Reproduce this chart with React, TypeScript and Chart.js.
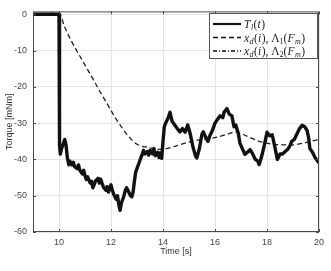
import React, { useEffect, useRef } from "react";
import { Chart, registerables } from "chart.js";

Chart.register(...registerables);

const xTicks = [10, 12, 14, 16, 18, 20];
const yTicks = [-60, -50, -40, -30, -20, -10, 0];

// T_l(t) measured torque
const tlTime = [
  9.0, 9.99, 10.0, 10.02, 10.05, 10.1, 10.15, 10.22, 10.27, 10.32, 10.38, 10.42, 10.5, 10.55, 10.6, 10.7,
  10.75, 10.8, 10.9, 10.95, 11.0, 11.05, 11.1, 11.2, 11.25, 11.3, 11.35, 11.4, 11.5, 11.55, 11.6, 11.7,
  11.8, 11.85, 11.9, 12.0, 12.05, 12.1, 12.2, 12.25, 12.3, 12.35, 12.4, 12.5, 12.55, 12.6, 12.65, 12.75,
  12.8, 12.85, 12.9, 12.95, 13.0, 13.1, 13.15, 13.2, 13.25, 13.3, 13.4, 13.45, 13.5, 13.6, 13.65, 13.7,
  13.8, 13.85, 13.9, 13.95, 14.0, 14.05, 14.1, 14.2, 14.27, 14.35, 14.45, 14.55, 14.65, 14.75, 14.85, 14.95,
  15.05, 15.15, 15.25, 15.3, 15.4, 15.5, 15.55, 15.65, 15.73, 15.8, 15.9, 16.0, 16.1, 16.2, 16.3, 16.35,
  16.46, 16.55, 16.65, 16.73, 16.8, 16.9, 16.96, 17.05, 17.15, 17.25, 17.35, 17.45, 17.55, 17.65, 17.7, 17.8,
  17.9, 18.0, 18.1, 18.2, 18.3, 18.4, 18.5, 18.6, 18.7, 18.8, 18.9, 18.95, 19.05, 19.15, 19.25, 19.35,
  19.45, 19.54, 19.6, 19.65, 19.75, 19.85, 20.0,
];
const tlValue = [
  0, 0, 0, -36, -38.5, -37, -36, -34.5, -36, -39.5, -41.5, -40.5, -41.5, -40.8, -42, -42.5,
  -41.5, -43, -44, -43, -44.5, -45.5, -44.8, -46.5, -46, -47.8, -47, -46, -45.2, -46.5, -45.4, -47.5,
  -48.5, -47.5, -49, -47, -48.5, -49.5, -51, -50, -52.5, -54, -52, -50, -48.5, -47.8, -48.5, -50,
  -50.3, -49, -46, -43.5, -42.5, -40.5, -39.5, -38.6, -37.5, -38.5, -37.8, -38.8, -37.5, -38.5, -37, -39,
  -38, -39.5, -38.2, -39.7, -35, -31, -30, -28.5, -27, -29.5, -30.5, -31.5, -32.4, -31.5, -32.5, -30.5,
  -33, -36.5, -39, -39.6, -37, -33, -32.4, -34, -35, -33.5, -32, -30, -28.9, -28, -28.5, -27,
  -26, -27.5, -28, -31, -30.5, -33, -35.5, -37, -38.6, -38, -37.3, -38.5, -40, -40.5, -41.4, -39,
  -36, -32.5, -33.5, -33.2, -36.5, -40, -38.5, -38.5, -37.8, -37.2, -36, -35, -34.5, -33, -31.5, -30.6,
  -31, -32, -34, -37, -38, -39.5, -41,
];

// x_d(i), Lambda_1(F_m)
const l1Time = [
  9.0, 10.0, 10.2, 10.4, 10.6, 10.8, 11.0, 11.2, 11.4, 11.6, 11.8, 12.0, 12.2, 12.4, 12.6, 12.8,
  13.0, 13.2, 13.4, 13.6, 14.0, 14.5, 15.0, 15.5, 16.0, 16.5, 16.8, 17.2, 17.7, 18.2, 18.7, 19.0,
  19.4, 19.7, 20.0,
];
const l1Value = [
  0, 0, -3.2, -6.3, -9, -11.5, -14, -16.5, -19, -21.6, -24, -26.5, -28.9, -31, -33, -34.6,
  -35.8, -36.4, -36.6, -37, -37.2, -36.3, -35.2, -34.5, -34, -33, -32.4, -33.5, -35, -35.8, -36, -36,
  -35.5, -35, -34.5,
];

// x_d(i), Lambda_2(F_m)
const l2Time = [9.0, 10.0, 10.03];
const l2Value = [0, 0, -37];

type Seg = { t: string; it?: boolean; sub?: boolean };
const legendItems: { label: Seg[]; dash: number[]; width: number }[] = [
  { label: [{ t: "T", it: true }, { t: "l", it: true, sub: true }, { t: "(" }, { t: "t", it: true }, { t: ")" }], dash: [], width: 2.2 },
  {
    label: [
      { t: "x", it: true }, { t: "d", it: true, sub: true }, { t: "(" }, { t: "i", it: true }, { t: "), Λ" },
      { t: "1", sub: true }, { t: "(" }, { t: "F", it: true }, { t: "m", it: true, sub: true }, { t: ")" },
    ],
    dash: [5, 3],
    width: 1.3,
  },
  {
    label: [
      { t: "x", it: true }, { t: "d", it: true, sub: true }, { t: "(" }, { t: "i", it: true }, { t: "), Λ" },
      { t: "2", sub: true }, { t: "(" }, { t: "F", it: true }, { t: "m", it: true, sub: true }, { t: ")" },
    ],
    dash: [4, 2, 1, 2],
    width: 1.3,
  },
];

const framePlugin = {
  id: "frame",
  afterDatasetsDraw(chart: any) {
    const { ctx, chartArea: a, scales } = chart;
    ctx.save();
    // box
    ctx.strokeStyle = "#4a4a4a";
    ctx.lineWidth = 1;
    ctx.setLineDash([]);
    ctx.strokeRect(a.left + 0.5, a.top + 0.5, a.right - a.left - 1, a.bottom - a.top - 1);
    // inward ticks
    const tl = 3;
    ctx.beginPath();
    xTicks.forEach((v) => {
      const px = Math.round(scales.x.getPixelForValue(v)) + 0.5;
      ctx.moveTo(px, a.bottom);
      ctx.lineTo(px, a.bottom - tl);
      ctx.moveTo(px, a.top);
      ctx.lineTo(px, a.top + tl);
    });
    yTicks.forEach((v) => {
      const py = Math.round(scales.y.getPixelForValue(v)) + 0.5;
      ctx.moveTo(a.left, py);
      ctx.lineTo(a.left + tl, py);
      ctx.moveTo(a.right, py);
      ctx.lineTo(a.right - tl, py);
    });
    ctx.stroke();

    // legend
    const bx = 209, by = 13, bw = 108, bh = 45;
    ctx.fillStyle = "#ffffff";
    ctx.fillRect(bx, by, bw, bh);
    ctx.strokeStyle = "#555";
    ctx.strokeRect(bx + 0.5, by + 0.5, bw, bh);
    legendItems.forEach((item, i) => {
      const y = by + 11 + i * 13.5;
      ctx.beginPath();
      ctx.strokeStyle = "#111";
      ctx.lineWidth = item.width;
      ctx.setLineDash(item.dash);
      ctx.moveTo(bx + 4, y);
      ctx.lineTo(bx + 32, y);
      ctx.stroke();
      ctx.setLineDash([]);
      let x = bx + 35;
      ctx.fillStyle = "#222";
      ctx.textBaseline = "alphabetic";
      item.label.forEach((s) => {
        const size = s.sub ? 8 : 11.5;
        ctx.font = `${s.it ? "italic " : ""}${size}px "Liberation Serif", "DejaVu Serif", serif`;
        ctx.fillText(s.t, x, y + 4 + (s.sub ? 2 : 0));
        x += ctx.measureText(s.t).width + (s.it ? 0.5 : 0);
      });
    });

    // axis titles
    ctx.fillStyle = "#333";
    ctx.font = '9px "Liberation Sans", Arial, sans-serif';
    ctx.textAlign = "center";
    ctx.textBaseline = "middle";
    ctx.fillText("Time [s]", (a.left + a.right) / 2, 252);
    ctx.save();
    ctx.translate(10, (a.top + a.bottom) / 2);
    ctx.rotate(-Math.PI / 2);
    ctx.fillText("Torque [mNm]", 0, 0);
    ctx.restore();
    ctx.restore();
  },
};

export default function App() {
  const ref = useRef<HTMLCanvasElement | null>(null);
  useEffect(() => {
    if (!ref.current) return;
    const chart = new Chart(ref.current, {
      type: "line",
      data: {
        datasets: [
          {
            label: "T_l(t)",
            data: tlTime.map((t, i) => ({ x: t, y: tlValue[i] })),
            borderColor: "#111",
            borderWidth: 3.4,
            pointRadius: 0,
            tension: 0,
            borderJoinStyle: "round",
          },
          {
            label: "x_d(i), Λ1(F_m)",
            data: l1Time.map((t, i) => ({ x: t, y: l1Value[i] })),
            borderColor: "#222",
            borderWidth: 1.3,
            borderDash: [5, 3],
            pointRadius: 0,
            tension: 0.3,
          },
          {
            label: "x_d(i), Λ2(F_m)",
            data: l2Time.map((t, i) => ({ x: t, y: l2Value[i] })),
            borderColor: "#222",
            borderWidth: 1.3,
            borderDash: [4, 2, 1, 2],
            pointRadius: 0,
            tension: 0,
          },
        ],
      },
      options: {
        animation: false,
        responsive: false,
        maintainAspectRatio: false,
        layout: { padding: { top: 7, right: 12, left: 0, bottom: 0 } },
        plugins: { legend: { display: false }, tooltip: { enabled: false } },
        scales: {
          x: {
            type: "linear",
            min: 9,
            max: 20,
            afterBuildTicks: (s: any) => {
              s.ticks = xTicks.map((v) => ({ value: v }));
            },
            afterFit: (s: any) => {
              s.height = 39;
            },
            grid: { color: "#e4e4e4", drawTicks: false, lineWidth: 1 },
            border: { display: false },
            ticks: {
              padding: 5,
              color: "#444",
              font: { family: '"Liberation Sans", Arial, sans-serif', size: 9 },
              maxRotation: 0,
            },
          },
          y: {
            type: "linear",
            min: -60,
            max: 0.8,
            afterBuildTicks: (s: any) => {
              s.ticks = yTicks.map((v) => ({ value: v }));
            },
            afterFit: (s: any) => {
              s.width = 33;
            },
            grid: { color: "#e4e4e4", drawTicks: false, lineWidth: 1 },
            border: { display: false },
            ticks: {
              padding: 6,
              color: "#444",
              font: { family: '"Liberation Sans", Arial, sans-serif', size: 9 },
            },
          },
        },
      },
      plugins: [framePlugin],
    } as any);
    return () => chart.destroy();
  }, []);
  return (
    <div style={{ position: "fixed", left: 0, top: 0, width: 331, height: 271, background: "#fff" }}>
      <canvas ref={ref} width={331} height={271} style={{ width: 331, height: 271, display: "block" }} />
    </div>
  );
}
